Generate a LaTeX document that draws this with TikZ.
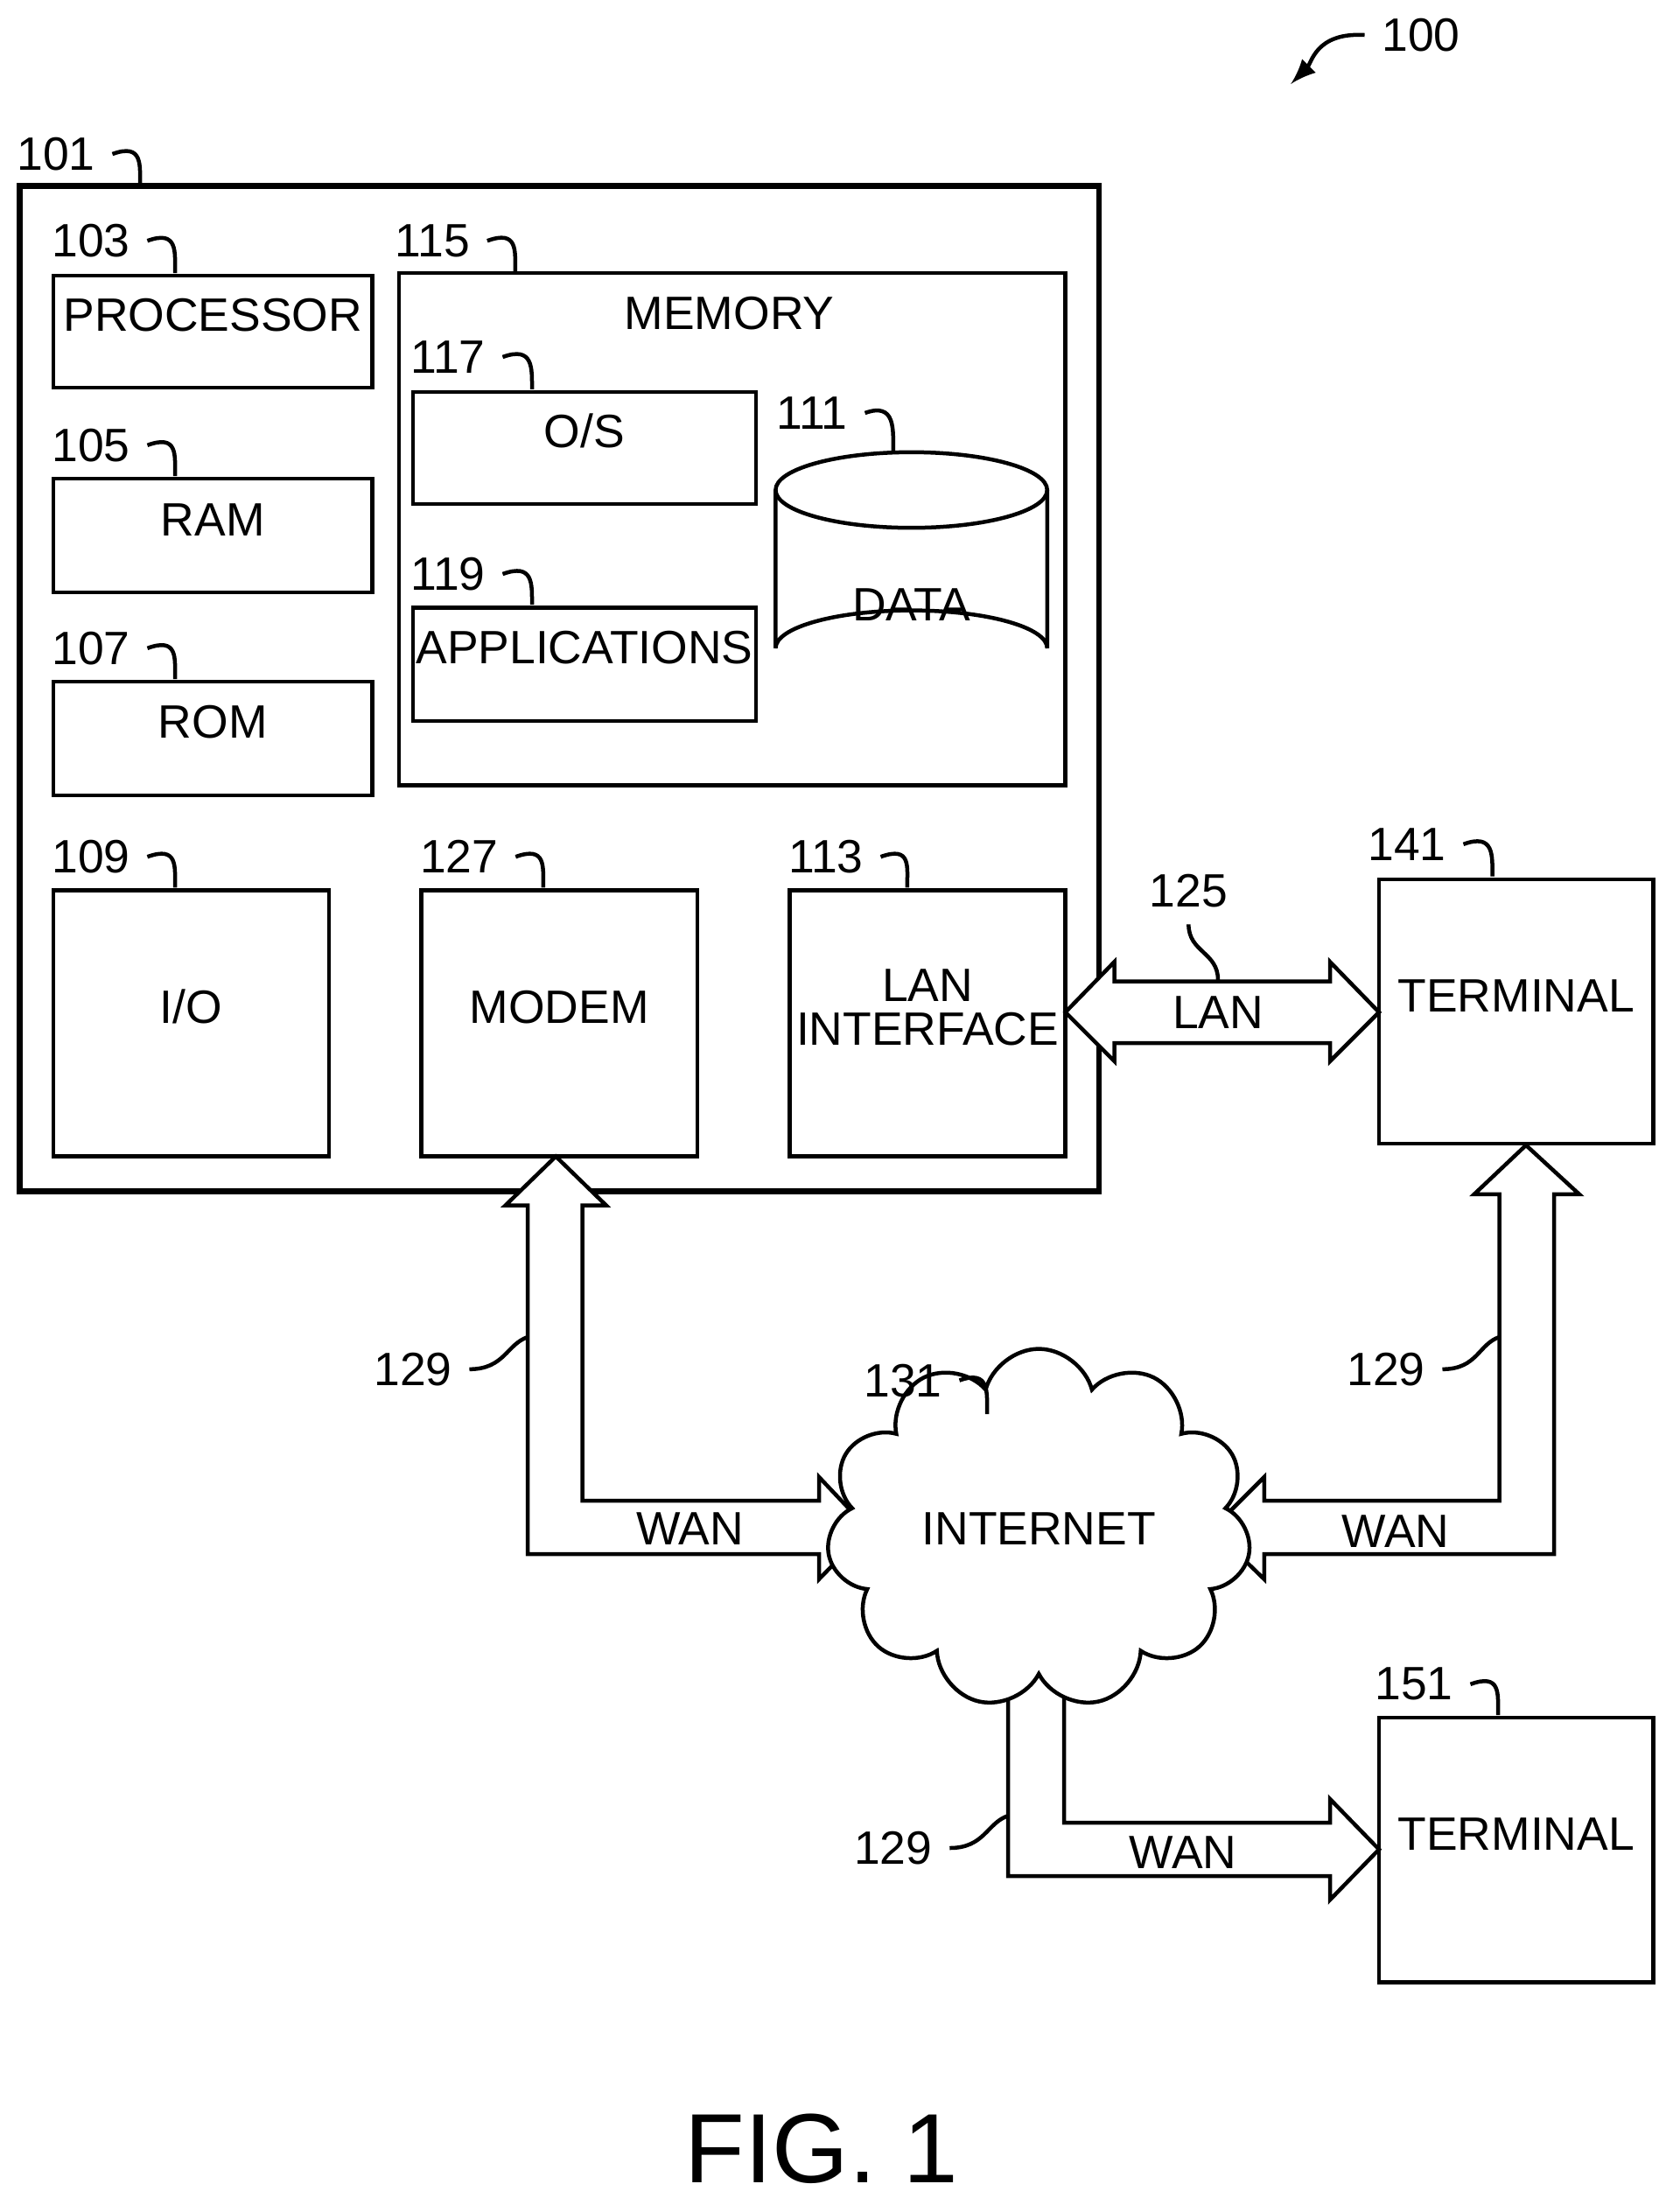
\documentclass[tikz,border=0pt]{standalone}
\usepackage{fontspec}
\setmainfont{Liberation Sans}
\usetikzlibrary{positioning}
\usetikzlibrary{fit}
\usetikzlibrary{shapes.symbols}

\tikzset{
  box/.style={draw,thick,inner sep=0pt,align=center},
  blockarrow/.style={draw,thick,fill=white,line join=miter},
  refline/.style={thick}
}
% reference number with its small curl
\newcommand{\refnum}[4]{%
  \node (#1) at (#2) {#3};
  \draw[refline] (#1.east) .. controls +(22,-8) and +(0,-15) .. (#4);}

\begin{document}
\begin{tikzpicture}[x=0.01cm,y=-0.01cm,font=\fontsize{9.5}{11}\selectfont]
\useasboundingbox (0,0) rectangle (1200,1575);

% computer 101
\node[box,line width=1.2pt,fit={(14,133)(785,851)}] (comp) {};
\node[box,fit={(38,197)(266,277)}] (proc) {PROCESSOR};
\node[box,fit={(38,342)(266,423)}] (ram) {RAM};
\node[box,fit={(38,487)(266,568)}] (rom) {ROM};
\node[box,fit={(285,195)(761,561)}] (mem) {};
\node (memlbl) at (521,224) {MEMORY};
\node[box,fit={(295,280)(540,360)}] (os) {O/S};
\node[box,fit={(295,434)(540,515)}] (apps) {APPLICATIONS};
\node[box,fit={(38,636)(235,826)}] (io) {I/O};
\node[box,fit={(301,636)(498,826)}] (modem) {MODEM};
\node[box,fit={(564,636)(761,826)}] (lan) {LAN\\[-2pt]INTERFACE};
\node[box,fit={(985,628)(1181,817)}] (term1) {TERMINAL};
\node[box,fit={(985,1227)(1181,1416)}] (term2) {TERMINAL};

% data store
\draw[thick,fill=white] (554,350) -- (554,463) arc[start angle=180,end angle=360,x radius=97,y radius=27] -- (748,350);
\draw[thick] (651,350) ellipse[x radius=97,y radius=27];
\node (data) at (651,432) {DATA};

% block arrows
\draw[blockarrow] (761,723) -- (796,687) -- (796,701) -- (950,701) -- (950,687) -- (985,723)
  -- (950,758) -- (950,745) -- (796,745) -- (796,758) -- cycle;
\node (lanlbl) at (870,723) {LAN};
\draw[blockarrow] (397,826) -- (433,861) -- (416,861) -- (416,1072) -- (585,1072) -- (585,1055) -- (620,1092)
  -- (585,1128) -- (585,1110) -- (377,1110) -- (377,861) -- (361,861) -- cycle;
\node (wan1) at (493,1092) {WAN};
\draw[blockarrow] (1090,818) -- (1128,853) -- (1110,853) -- (1110,1110) -- (903,1110) -- (903,1128) -- (866,1092)
  -- (903,1055) -- (903,1072) -- (1071,1072) -- (1071,853) -- (1053,853) -- cycle;
\node (wan2) at (997,1094) {WAN};
\draw[blockarrow] (740,1175) -- (776,1210) -- (760,1210) -- (760,1302) -- (950,1302) -- (950,1285) -- (985,1321)
  -- (950,1357) -- (950,1340) -- (720,1340) -- (720,1210) -- (703,1210) -- cycle;
\node (wan3) at (845,1323) {WAN};

\node[cloud,draw,thick,fill=white,cloud puffs=11,minimum width=2.5cm,minimum height=1.95cm,aspect=1.3] (net) at (742,1092) {INTERNET};

% reference numbers
\refnum{r101}{40,110}{101}{100,133}
\refnum{r103}{65,172}{103}{125,195}
\refnum{r115}{309,172}{115}{368,194}
\refnum{r117}{320,255}{117}{380,278}
\refnum{r111}{580,295}{111}{638,322}
\refnum{r105}{65,318}{105}{125,340}
\refnum{r119}{320,410}{119}{380,432}
\refnum{r107}{65,463}{107}{125,485}
\refnum{r109}{65,612}{109}{125,634}
\refnum{r127}{328,612}{127}{388,634}
\refnum{r113}{590,612}{113}{648,634}
\refnum{r141}{1005,603}{141}{1066,626}
\refnum{r131}{645,986}{131}{705,1010}
\refnum{r151}{1010,1203}{151}{1070,1225}
\node (r125) at (849,636) {125};
\draw[refline] (r125.south) .. controls +(0,20) and +(0,-20) .. (870,700);
\node (r129a) at (295,978) {129};
\draw[refline] (r129a.east) .. controls +(25,0) and +(-15,5) .. (377,955);
\node (r129b) at (990,978) {129};
\draw[refline] (r129b.east) .. controls +(25,0) and +(-15,5) .. (1071,955);
\node (r129c) at (638,1320) {129};
\draw[refline] (r129c.east) .. controls +(25,0) and +(-15,5) .. (720,1297);
\node (r100) at (1015,25) {100};
\draw[thick,-latex] (r100.west) .. controls +(-35,-2) and +(15,-15) .. (922,60);

\node[font=\fontsize{20}{24}\selectfont] (fig) at (587,1535) {FIG. 1};
\end{tikzpicture}
\end{document}
